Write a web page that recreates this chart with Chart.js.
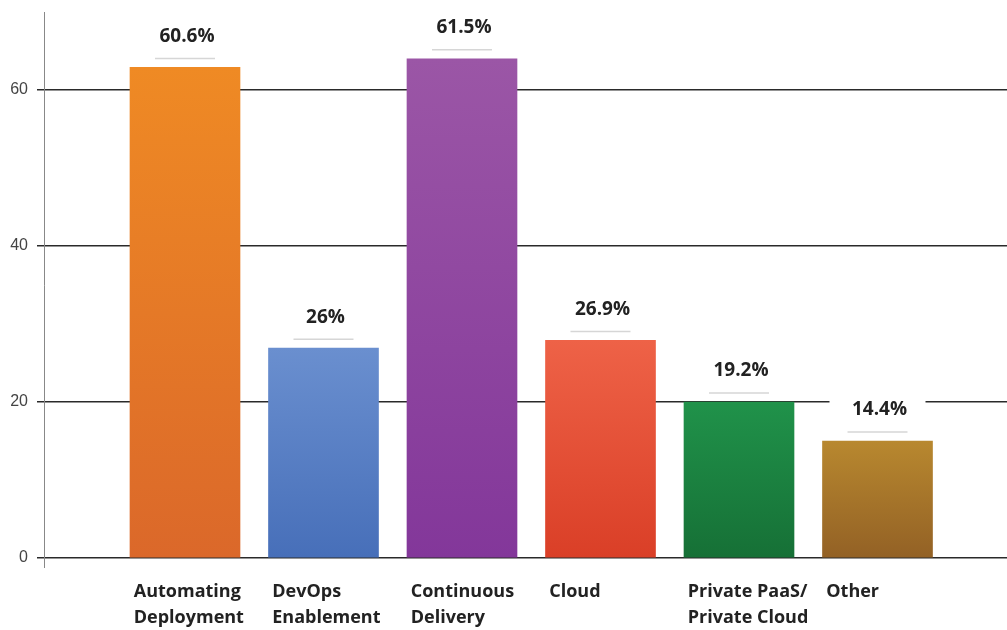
<!DOCTYPE html>
<html>
<head>
<meta charset="utf-8">
<script src="https://cdn.jsdelivr.net/npm/chart.js@4.4.1/dist/chart.umd.min.js"></script>
<style>
  html, body { margin: 0; background: #fff; }
  #wrap { width: 1007px; height: 630px; position: relative; }
</style>
</head>
<body>
<div id="wrap"><canvas id="adoption"></canvas></div>
<script>
// Values. The bars stand a little taller than their
// printed percentages, so heights and labels are kept apart.
var categories = [
  ["Automating", "Deployment"],
  ["DevOps", "Enablement"],
  ["Continuous", "Delivery"],
  ["Cloud"],
  ["Private PaaS/", "Private Cloud"],
  ["Other"],
];
var barHeights = [62.9, 26.9, 64.0, 27.9, 20.0, 15.0];
var valueLabels = ["60.6%", "26%", "61.5%", "26.9%", "19.2%", "14.4%"];
var yTickValues = [0, 20, 40, 60];

var topColors = ["#ef8a24", "#6a8fcf", "#9b56a6", "#ee6247", "#20924a", "#b8882f"];
var bottomColors = ["#db682a", "#476fb9", "#83379a", "#da3f27", "#167036", "#936125"];

(function () {
  "use strict";

  // each bar gets its own top-to-bottom gradient
  function barFill(ctx) {
    var chart = ctx.chart;
    var y = chart.scales.y;
    if (!y || !chart.chartArea || !ctx.parsed) return topColors[ctx.dataIndex];
    var top = y.getPixelForValue(ctx.parsed.y);
    var bottom = y.getPixelForValue(0);
    var g = chart.ctx.createLinearGradient(0, top, 0, bottom);
    g.addColorStop(0, topColors[ctx.dataIndex]);
    g.addColorStop(1, bottomColors[ctx.dataIndex]);
    return g;
  }

  // value labels sit on a white box that breaks the grid lines
  var valueLabelPlugin = {
    id: "valueLabels",
    afterDatasetsDraw: function (chart) {
      var c = chart.ctx;
      var meta = chart.getDatasetMeta(0);
      c.save();
      meta.data.forEach(function (bar, i) {
        var cy = bar.y - 31;
        c.fillStyle = "#fff";
        c.fillRect(bar.x - 48, cy - 16, 96, 38);
        c.strokeStyle = "#d6d6d6";
        c.lineWidth = 1.5;
        c.beginPath();
        c.moveTo(bar.x - 30, bar.y - 9);
        c.lineTo(bar.x + 30, bar.y - 9);
        c.stroke();
        c.fillStyle = "#222";
        c.font = "bold 19px 'Open Sans'";
        c.textAlign = "center";
        c.textBaseline = "middle";
        c.fillText(valueLabels[i], bar.x + 2, cy);
      });
      // the y axis line runs a little past the baseline
      var a = chart.chartArea;
      c.strokeStyle = "#888";
      c.lineWidth = 1;
      c.beginPath();
      c.moveTo(a.left + 0.5, a.bottom);
      c.lineTo(a.left + 0.5, a.bottom + 10);
      c.stroke();
      c.restore();
    },
  };

  new Chart(document.getElementById("adoption"), {
    type: "bar",
    data: {
      datasets: [
        {
          data: barHeights.map(function (v, i) { return { x: i, y: v }; }),
          backgroundColor: barFill,
          borderWidth: 0,
          barThickness: 110,
        },
      ],
    },
    plugins: [valueLabelPlugin],
    options: {
      responsive: true,
      maintainAspectRatio: false,
      animation: false,
      layout: { padding: { top: 12, right: 0, left: 0, bottom: 0 } },
      plugins: { legend: { display: false }, tooltip: { enabled: false } },
      scales: {
        x: {
          type: "linear",
          offset: false,
          min: -1.018,
          max: 5.935,
          grid: { display: false, drawTicks: false, offset: false },
          border: { display: false },
          afterBuildTicks: function (scale) {
            // one tick per category, at the left edge of its bar
            scale.ticks = categories.map(function (c, i) { return { value: i - 0.37 }; });
          },
          afterFit: function (scale) { scale.height = 72; },
          ticks: {
            autoSkip: false,
            maxRotation: 0,
            align: "start",
            padding: 21,
            color: "#222",
            font: { family: "'Open Sans'", size: 18, weight: "bold", lineHeight: "26px" },
            callback: function (v, i) { return categories[i]; },
          },
        },
        y: {
          min: 0,
          max: 70,
          afterBuildTicks: function (scale) {
            scale.ticks = yTickValues.map(function (v) { return { value: v }; });
          },
          afterFit: function (scale) {
            scale.width = 44;
            scale.paddingTop = 0;
          },
          grid: { color: "#2a2a2a", lineWidth: 1.5, tickLength: 7, tickColor: "#2a2a2a" },
          border: { display: true, color: "#888", width: 1 },
          ticks: {
            padding: 9,
            color: "#444",
            font: { family: "'Liberation Sans'", size: 16 },
          },
        },
      },
    },
  });
})();
</script>
</body>
</html>
